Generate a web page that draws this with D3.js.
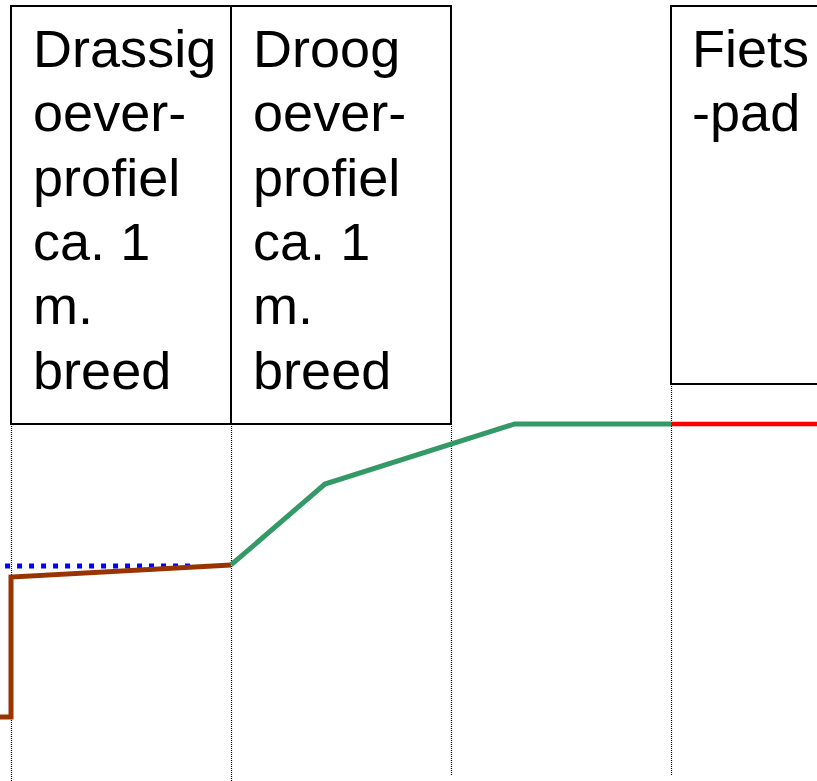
<!DOCTYPE html>
<html>
<head>
<meta charset="utf-8">
<script src="https://cdn.jsdelivr.net/npm/d3@7"></script>
<style>
  html, body { margin: 0; padding: 0; background: #fff; }
  svg { display: block; }
</style>
</head>
<body>
<div id="chart"></div>
<script>
// horizontal distance in metres from the water edge, height in metres above the ditch bottom
const zones = [
  { x0: 0, x1: 1, lines: ['Drassig', 'oever-', 'profiel', 'ca. 1', 'm.', 'breed'] },
  { x0: 1, x1: 2, lines: ['Droog', 'oever-', 'profiel', 'ca. 1', 'm.', 'breed'] },
  { x0: 3, x1: 3.8, lines: ['Fiets', '-pad'] },
];
const gridMarks = [0, 1, 2, 3];

const bankProfile = [[-0.05, 0], [0.0, 0], [0.0, 0.636], [1.0, 0.691]];
const waterLevel = [[-0.027, 0.686], [0.836, 0.686]];
const dryProfile = [[1.0, 0.691], [1.427, 1.059], [2.29, 1.332], [3.0, 1.332]];
const cyclePath = [[3.0, 1.332], [3.8, 1.332]];

const width = 817;
const height = 781;

const xScale = d3.scaleLinear().domain([0, 1]).range([11, 231]);
const yScale = d3.scaleLinear().domain([0, 1]).range([717, 497]);

const svg = d3.select('#chart')
  .append('svg')
  .attr('width', width)
  .attr('height', height);

// dotted guides under the boxes
const guideTop = [424, 424, 424, 384];
const guideBottom = [781, 781, 775, 775];
gridMarks.forEach((m, i) => {
  svg.append('line')
    .attr('x1', xScale(m) + 0.5).attr('x2', xScale(m) + 0.5)
    .attr('y1', guideTop[i]).attr('y2', guideBottom[i])
    .attr('stroke', '#000')
    .attr('stroke-width', 1.2)
    .attr('stroke-dasharray', '1,1');
});

// label boxes
const boxBottom = [424, 424, 384];
const textX = [22, 22, 21];
zones.forEach((z, i) => {
  const left = xScale(z.x0);
  svg.append('rect')
    .attr('x', left)
    .attr('y', 6)
    .attr('width', xScale(z.x1) - left)
    .attr('height', boxBottom[i] - 6)
    .attr('fill', 'none')
    .attr('stroke', '#000')
    .attr('stroke-width', 2);
  z.lines.forEach((t, j) => {
    const tx = left + textX[i];
    const ty = 67 + j * 64.3;
    svg.append('text')
      .attr('transform', `translate(${tx},${ty}) scale(1.06,1)`)
      .attr('font-family', 'Liberation Sans, Arial, sans-serif')
      .attr('font-size', 51)
      .attr('fill', '#000')
      .text(t);
  });
});

const line = d3.line()
  .x((d) => xScale(d[0]))
  .y((d) => yScale(d[1]));

svg.append('path')
  .datum(waterLevel)
  .attr('fill', 'none')
  .attr('stroke', '#0000ff')
  .attr('stroke-width', 5)
  .attr('stroke-dasharray', '5,7')
  .attr('d', line);

svg.append('path')
  .datum(bankProfile)
  .attr('fill', 'none')
  .attr('stroke', '#993300')
  .attr('stroke-width', 5)
  .attr('d', line);

svg.append('path')
  .datum(dryProfile)
  .attr('fill', 'none')
  .attr('stroke', '#339966')
  .attr('stroke-width', 5)
  .attr('d', line);

svg.append('path')
  .datum(cyclePath)
  .attr('fill', 'none')
  .attr('stroke', '#ff0000')
  .attr('stroke-width', 4.5)
  .attr('d', line);
</script>
</body>
</html>
